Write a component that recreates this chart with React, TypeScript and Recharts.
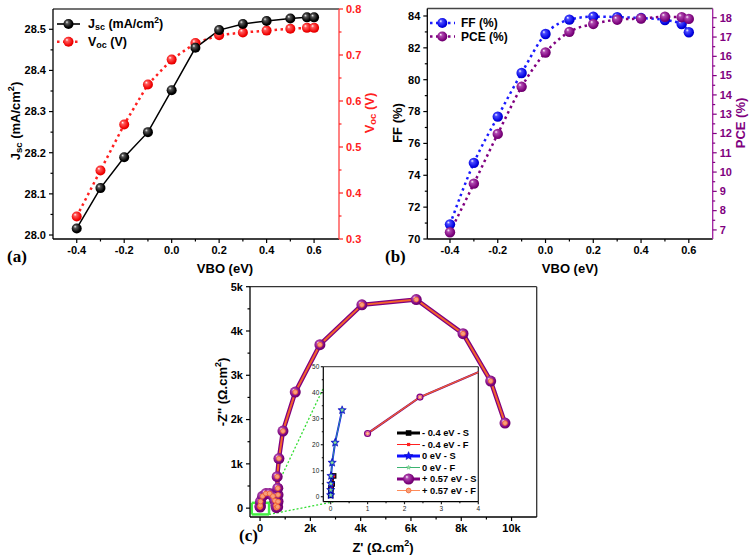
import React from 'react';
import { LineChart, Line, XAxis, YAxis, ReferenceLine, ReferenceArea, Legend, Label } from 'recharts';

// ---------- Panel (a) / (b) data ----------
const vbo = [-0.4, -0.3, -0.2, -0.1, 0, 0.1, 0.2, 0.3, 0.4, 0.5, 0.57, 0.6];
const jsc = [28.016, 28.114, 28.189, 28.25, 28.352, 28.455, 28.498, 28.513, 28.52, 28.526, 28.529, 28.529];
const voc = [0.349, 0.449, 0.549, 0.636, 0.69, 0.726, 0.743, 0.749, 0.753, 0.757, 0.759, 0.759];
const ff = [70.92, 74.78, 77.68, 80.42, 82.87, 83.77, 83.96, 83.93, 83.87, 83.75, 83.5, 82.98];
const pce = [6.88, 9.4, 11.98, 14.42, 16.2, 17.27, 17.68, 17.9, 17.96, 18.05, 18.03, 17.94];

const xTicks = [-0.4, -0.3, -0.2, -0.1, 0, 0.1, 0.2, 0.3, 0.4, 0.5, 0.6];
const xMajor = [-0.4, -0.2, 0, 0.2, 0.4, 0.6];
const jscTicks = [28.0, 28.05, 28.1, 28.15, 28.2, 28.25, 28.3, 28.35, 28.4, 28.45, 28.5];
const jscMajor = [28.0, 28.1, 28.2, 28.3, 28.4, 28.5];
const vocTicks = [0.3, 0.35, 0.4, 0.45, 0.5, 0.55, 0.6, 0.65, 0.7, 0.75, 0.8];
const vocMajor = [0.3, 0.4, 0.5, 0.6, 0.7, 0.8];
const ffTicks = [70, 71, 72, 73, 74, 75, 76, 77, 78, 79, 80, 81, 82, 83, 84];
const ffMajor = [70, 72, 74, 76, 78, 80, 82, 84];
const pceTicks = [7, 7.5, 8, 8.5, 9, 9.5, 10, 10.5, 11, 11.5, 12, 12.5, 13, 13.5, 14, 14.5, 15, 15.5, 16, 16.5, 17, 17.5, 18];
const pceMajor = [7, 8, 9, 10, 11, 12, 13, 14, 15, 16, 17, 18];

// ---------- Panel (c) data (Z', -Z'') ----------
const zm04Re = [0, 0.005, 0.01, 0.04, 0.08];
const zm04Im = [0.5, 2.6, 3.5, 4.9, 8.0];
const z0Re = [0, 0.002, 0.005, 0.01, 0.04, 0.12, 0.31];
const z0Im = [0.6, 2.6, 5, 8, 13.1, 20.8, 33.3];
const z057Re = [1.0, 2.42, 6, 20, 100, 230, 380, 510, 590, 630, 650, 700, 715, 715, 705, 680, 750, 910, 1400, 2380, 4050, 6210, 8070, 9170, 9740];
const z057Im = [24.3, 38.3, 60, 150, 270, 330, 330, 270, 170, 60, 10, 30, 150, 300, 450, 710, 1120, 1740, 2620, 3690, 4590, 4710, 3940, 2870, 1920];

const cYTicks = [0, 500, 1000, 1500, 2000, 2500, 3000, 3500, 4000, 4500, 5000];
const cYMajor = [0, 1000, 2000, 3000, 4000, 5000];
const cXTicks = [0, 1000, 2000, 3000, 4000, 5000, 6000, 7000, 8000, 9000, 10000];
const cXMajor = [0, 2000, 4000, 6000, 8000, 10000];
const inYTicks = [0, 5, 10, 15, 20, 25, 30, 35, 40, 45, 50];
const inYMajor = [0, 10, 20, 30, 40, 50];
const inXTicks = [0, 0.5, 1, 1.5, 2, 2.5, 3, 3.5, 4];
const inXMajor = [0, 1, 2, 3, 4];

// zoom box (main plot coords) and inset corners
const zoomBox = { x1: -330, x2: 358, y1: -142, y2: 120 };
const insetCorner = { x: 2915, yTop: 3190, yBottom: 142 };

const FONT = '"Liberation Sans", Arial, sans-serif';
const PURPLE = '#800080';
const RED = '#ff2020';
const ORANGE = '#f4622a';
const GREEN = '#44ee44';

const kfmt = (v: number) => (v === 0 ? '0' : `${v / 1000}k`);
const f1 = (v: number) => v.toFixed(1);
const f0 = (v: number) => `${Math.round(v)}`;

function makeTick(side: 'left' | 'right' | 'bottom', majors: number[], fmt: (v: number) => string, color: string, fs = 11, maj = 4, min = 2.5, gap = 3, weight: any = 'bold') {
  return (p: any) => {
    const { x, y, payload } = p;
    const v = payload.value;
    const isMaj = majors.some((m) => Math.abs(m - v) < 1e-6);
    const L = isMaj ? maj : min;
    const txt = { fill: color, fontSize: fs, fontWeight: weight, fontFamily: FONT } as any;
    if (side === 'left') {
      return (
        <g>
          <line x1={x} y1={y} x2={x - L} y2={y} stroke={color} strokeWidth={1.2} />
          {isMaj && <text x={x - maj - gap} y={y} dy="0.35em" textAnchor="end" {...txt}>{fmt(v)}</text>}
        </g>
      );
    }
    if (side === 'right') {
      return (
        <g>
          <line x1={x} y1={y} x2={x + L} y2={y} stroke={color} strokeWidth={1.2} />
          {isMaj && <text x={x + maj + gap} y={y} dy="0.35em" textAnchor="start" {...txt}>{fmt(v)}</text>}
        </g>
      );
    }
    return (
      <g>
        <line x1={x} y1={y} x2={x} y2={y + L} stroke={color} strokeWidth={1.2} />
        {isMaj && <text x={x} y={y + maj + gap} dy="0.75em" textAnchor="middle" {...txt}>{fmt(v)}</text>}
      </g>
    );
  };
}

const sphereDot = (grad: string, r: number) => (p: any) => {
  if (p.cx == null || p.cy == null) return <g key={`e-${grad}-${p.index}`} />;
  return <circle key={`${grad}-${p.index}`} cx={p.cx} cy={p.cy} r={r} fill={`url(#${grad})`} />;
};

function starPoints(cx: number, cy: number, R: number) {
  const pts: string[] = [];
  for (let i = 0; i < 10; i++) {
    const a = -Math.PI / 2 + (i * Math.PI) / 5;
    const rr = i % 2 ? R * 0.45 : R;
    pts.push(`${cx + rr * Math.cos(a)},${cy + rr * Math.sin(a)}`);
  }
  return pts.join(' ');
}

type MarkKind = 'square' | 'sqSmall' | 'star' | 'starSmall' | 'ball' | 'ballSmall' | 'bigBall' | 'dotF';
function Marker({ kind, cx, cy }: { kind: MarkKind; cx: number; cy: number }) {
  switch (kind) {
    case 'square':
      return <rect x={cx - 2.8} y={cy - 2.8} width={5.6} height={5.6} fill="#000" />;
    case 'sqSmall':
      return <rect x={cx - 1.6} y={cy - 1.6} width={3.2} height={3.2} fill={RED} />;
    case 'star':
      return <polygon points={starPoints(cx, cy, 4.4)} fill="#1010ff" stroke="#0000a0" strokeWidth={0.5} />;
    case 'starSmall':
      return <polygon points={starPoints(cx, cy, 2.2)} fill="#9be39b" stroke="#3cb371" strokeWidth={0.4} />;
    case 'ball':
      return <circle cx={cx} cy={cy} r={3} fill="#d27ad2" stroke={PURPLE} strokeWidth={1.2} />;
    case 'ballSmall':
      return <circle cx={cx} cy={cy} r={1.6} fill="#ffc0a0" stroke={ORANGE} strokeWidth={0.6} />;
    case 'bigBall':
      return <circle cx={cx} cy={cy} r={5.5} fill="url(#gPurple)" />;
    case 'dotF':
      return <circle cx={cx} cy={cy} r={2.4} fill="#f7a07a" stroke={ORANGE} strokeWidth={0.8} />;
  }
  return null;
}

const markDot = (kind: MarkKind, id: string) => (p: any) => {
  if (p.cx == null || p.cy == null) return <g key={`e-${id}-${p.index}`} />;
  return (
    <g key={`${id}-${p.index}`}>
      <Marker kind={kind} cx={p.cx} cy={p.cy} />
    </g>
  );
};

const titleStyle = { fontFamily: FONT, fontWeight: 'bold', fontSize: 13 } as any;

function VText({ x, y, color, children }: { x: number; y: number; color: string; children: any }) {
  return (
    <text x={x} y={y} transform={`rotate(-90, ${x}, ${y})`} textAnchor="middle" dominantBaseline="central" fill={color} {...titleStyle}>
      {children}
    </text>
  );
}
function HText({ x, y, color, children }: { x: number; y: number; color: string; children: any }) {
  return (
    <text x={x} y={y} textAnchor="middle" dominantBaseline="central" fill={color} {...titleStyle}>
      {children}
    </text>
  );
}

// legend definitions
const legendA = [
  { color: '#000', dash: undefined as any, grad: 'gBlack', parts: ['J', 'sc', ' (mA/cm', '2', ')'] },
  { color: RED, dash: '2.5 3.5', grad: 'gRed', parts: ['V', 'oc', ' (V)', '', ''] },
];
const legendB = [
  { color: '#1a1aff', dash: '2.5 3.5', grad: 'gBlue', label: 'FF (%)' },
  { color: PURPLE, dash: '2.5 3.5', grad: 'gPurple', label: 'PCE (%)' },
];
const legendC: { label: string; color: string; w: number; mark: MarkKind }[] = [
  { label: '- 0.4 eV - S', color: '#000', w: 3, mark: 'square' },
  { label: '- 0.4 eV - F', color: RED, w: 1, mark: 'sqSmall' },
  { label: '0 eV - S', color: '#1010ff', w: 3, mark: 'star' },
  { label: '0 eV - F', color: '#3cb371', w: 1, mark: 'starSmall' },
  { label: '+ 0.57 eV - S', color: PURPLE, w: 3, mark: 'bigBall' },
  { label: '+ 0.57 eV - F', color: '#ff8c5a', w: 1, mark: 'dotF' },
];

const LegendAContent = () => (
  <svg width={150} height={40} style={{ overflow: 'visible' }}>
    {legendA.map((it, i) => {
      const y = 10 + i * 17.7;
      return (
        <g key={i}>
          <line x1={2} x2={25} y1={y} y2={y} stroke={it.color} strokeWidth={i === 0 ? 1.6 : 2.5} strokeDasharray={it.dash} />
          <circle cx={13.5} cy={y} r={5} fill={`url(#${it.grad})`} />
          <text x={33} y={y} dominantBaseline="central" fontFamily={FONT} fontWeight="bold" fontSize={12.5} fill="#000">
            {it.parts[0]}
            <tspan dy={3} fontSize={9}>{it.parts[1]}</tspan>
            <tspan dy={-3}>{it.parts[2]}</tspan>
            {it.parts[3] && <tspan dy={-4.5} fontSize={8.5}>{it.parts[3]}</tspan>}
            {it.parts[4] && <tspan dy={4.5}>{it.parts[4]}</tspan>}
          </text>
        </g>
      );
    })}
  </svg>
);

const LegendBContent = () => (
  <svg width={110} height={32} style={{ overflow: 'visible' }}>
    {legendB.map((it, i) => {
      const y = 8 + i * 13.5;
      return (
        <g key={i}>
          <line x1={2} x2={27} y1={y} y2={y} stroke={it.color} strokeWidth={2.5} strokeDasharray={it.dash} />
          <circle cx={14.3} cy={y} r={5} fill={`url(#${it.grad})`} />
          <text x={33} y={y} dominantBaseline="central" fontFamily={FONT} fontWeight="bold" fontSize={12} fill="#000">
            {it.label}
          </text>
        </g>
      );
    })}
  </svg>
);

const LegendCContent = () => (
  <svg width={80} height={70} style={{ overflow: 'visible' }}>
    {legendC.map((it, i) => {
      const y = 6 + i * 11.5;
      return (
        <g key={i}>
          <line x1={2} x2={25} y1={y} y2={y} stroke={it.color} strokeWidth={it.w} />
          <Marker kind={it.mark} cx={13.6} cy={y} />
          <text x={27} y={y} dominantBaseline="central" fontFamily={FONT} fontWeight="bold" fontSize={9.3} fill="#000">
            {it.label}
          </text>
        </g>
      );
    })}
  </svg>
);

const panelLetter = (t: string, left: number, top: number) => (
  <div style={{ position: 'absolute', left, top, fontFamily: '"Liberation Serif", "Times New Roman", serif', fontWeight: 'bold', fontSize: 17, lineHeight: '20px' }}>{t}</div>
);

export default function App() {
  const dataAB = vbo.map((v, i) => ({ vbo: v, jsc: jsc[i], voc: voc[i], ff: ff[i], pce: pce[i] }));
  const dM04 = zm04Re.map((x, i) => ({ x, y: zm04Im[i] }));
  const d0 = z0Re.map((x, i) => ({ x, y: z0Im[i] }));
  const d057 = z057Re.map((x, i) => ({ x, y: z057Im[i] }));
  const b = zoomBox;

  return (
    <div style={{ position: 'absolute', left: 0, top: 0, width: 749, height: 558, background: '#fff', overflow: 'hidden' }}>
      <svg width={0} height={0} style={{ position: 'absolute' }}>
        <defs>
          <radialGradient id="gBlack" cx="0.45" cy="0.45" r="0.6" fx="0.33" fy="0.3">
            <stop offset="0%" stopColor="#f0f0f0" />
            <stop offset="25%" stopColor="#555" />
            <stop offset="75%" stopColor="#000" />
            <stop offset="100%" stopColor="#000" />
          </radialGradient>
          <radialGradient id="gRed" cx="0.45" cy="0.45" r="0.6" fx="0.33" fy="0.3">
            <stop offset="0%" stopColor="#fff" />
            <stop offset="25%" stopColor="#ff5a5a" />
            <stop offset="80%" stopColor="#f00000" />
            <stop offset="100%" stopColor="#d00000" />
          </radialGradient>
          <radialGradient id="gBlue" cx="0.45" cy="0.45" r="0.6" fx="0.33" fy="0.3">
            <stop offset="0%" stopColor="#fff" />
            <stop offset="25%" stopColor="#4a4aff" />
            <stop offset="80%" stopColor="#0000e0" />
            <stop offset="100%" stopColor="#0000b0" />
          </radialGradient>
          <radialGradient id="gPurple" cx="0.45" cy="0.45" r="0.6" fx="0.33" fy="0.3">
            <stop offset="0%" stopColor="#fff" />
            <stop offset="25%" stopColor="#b048b0" />
            <stop offset="80%" stopColor="#7a007a" />
            <stop offset="100%" stopColor="#600060" />
          </radialGradient>
        </defs>
      </svg>

      {/* Panel (a) */}
      <div style={{ position: 'absolute', left: 0, top: 0 }}>
        <LineChart width={380} height={290} data={dataAB} margin={{ top: 9, right: 0, bottom: 0, left: 0 }}>
          <XAxis dataKey="vbo" type="number" domain={[-0.5, 0.705]} allowDataOverflow ticks={xTicks} interval={0} tickSize={0} tickMargin={0}
            tick={makeTick('bottom', xMajor, f1, '#000')} axisLine={{ stroke: '#000', strokeWidth: 1.3 }} height={51}>
            <Label content={() => <HText x={225} y={268} color="#000">VBO (eV)</HText>} />
          </XAxis>
          <YAxis yAxisId="l" orientation="left" type="number" width={53} domain={[27.9903, 28.5493]} allowDataOverflow ticks={jscTicks} interval={0}
            tickSize={0} tickMargin={0} tick={makeTick('left', jscMajor, f1, '#000')} axisLine={{ stroke: '#000', strokeWidth: 1.3 }}>
            <Label content={() => (
              <VText x={15} y={121} color="#000">
                J<tspan dy={3} fontSize={9.5}>sc</tspan><tspan dy={-3}> (mA/cm</tspan><tspan dy={-4.5} fontSize={9}>2</tspan><tspan dy={4.5}>)</tspan>
              </VText>
            )} />
          </YAxis>
          <YAxis yAxisId="r" orientation="right" type="number" width={41} domain={[0.3, 0.8]} allowDataOverflow ticks={vocTicks} interval={0}
            tickSize={0} tickMargin={0} tick={makeTick('right', vocMajor, f1, RED)} axisLine={{ stroke: '#ff4040', strokeWidth: 1.3 }}>
            <Label content={() => (
              <VText x={369} y={113} color={RED}>
                V<tspan dy={3} fontSize={9.5}>oc</tspan><tspan dy={-3}> (V)</tspan>
              </VText>
            )} />
          </YAxis>
          <ReferenceLine yAxisId="l" y={28.5493} stroke="#444" strokeWidth={1.5} />
          <Line yAxisId="r" dataKey="voc" stroke={RED} strokeWidth={2.5} strokeDasharray="2.5 3.5" dot={sphereDot('gRed', 5)} isAnimationActive={false} />
          <Line yAxisId="l" dataKey="jsc" stroke="#000" strokeWidth={1.5} dot={sphereDot('gBlack', 5)} isAnimationActive={false} />
          <Legend layout="vertical" align="center" verticalAlign="middle" content={LegendAContent} wrapperStyle={{ left: 55, top: 14, width: 150 }} />
        </LineChart>
      </div>
      {panelLetter('(a)', 7, 247)}

      {/* Panel (b) */}
      <div style={{ position: 'absolute', left: 370, top: 0 }}>
        <LineChart width={379} height={290} data={dataAB} margin={{ top: 8.5, right: 0, bottom: 0, left: 0 }}>
          <XAxis dataKey="vbo" type="number" domain={[-0.495, 0.7]} allowDataOverflow ticks={xTicks} interval={0} tickSize={0} tickMargin={0}
            tick={makeTick('bottom', xMajor, f1, '#000')} axisLine={{ stroke: '#000', strokeWidth: 1.3 }} height={51}>
            <Label content={() => <HText x={200} y={268} color="#000">VBO (eV)</HText>} />
          </XAxis>
          <YAxis yAxisId="l" orientation="left" type="number" width={57.3} domain={[70, 84.47]} allowDataOverflow ticks={ffTicks} interval={0}
            tickSize={0} tickMargin={0} tick={makeTick('left', ffMajor, f0, '#000')} axisLine={{ stroke: '#000', strokeWidth: 1.3 }}>
            <Label content={() => <VText x={27} y={123} color="#000">FF (%)</VText>} />
          </YAxis>
          <YAxis yAxisId="r" orientation="right" type="number" width={36.3} domain={[6.53, 18.48]} allowDataOverflow ticks={pceTicks} interval={0}
            tickSize={0} tickMargin={0} tick={makeTick('right', pceMajor, f0, PURPLE)} axisLine={{ stroke: '#a020a0', strokeWidth: 1.3 }}>
            <Label content={() => <VText x={370} y={123} color={PURPLE}>PCE (%)</VText>} />
          </YAxis>
          <ReferenceLine yAxisId="l" y={84.47} stroke="#444" strokeWidth={1.5} />
          <Line yAxisId="l" dataKey="ff" type="monotone" stroke="#1a1aff" strokeWidth={2.5} strokeDasharray="2.5 3.5" dot={sphereDot('gBlue', 5.2)} isAnimationActive={false} />
          <Line yAxisId="r" dataKey="pce" type="monotone" stroke={PURPLE} strokeWidth={2.5} strokeDasharray="2.5 3.5" dot={sphereDot('gPurple', 5.2)} isAnimationActive={false} />
          <Legend layout="vertical" align="center" verticalAlign="middle" content={LegendBContent} wrapperStyle={{ left: 58, top: 14.7, width: 110 }} />
        </LineChart>
      </div>
      {panelLetter('(b)', 385, 247)}

      {/* Panel (c) main */}
      <div style={{ position: 'absolute', left: 200, top: 270 }}>
        <LineChart width={340} height={288} margin={{ top: 16.7, right: 3.3, bottom: 0, left: 0 }}>
          <XAxis dataKey="x" type="number" domain={[-400, 11000]} allowDataOverflow ticks={cXTicks} interval={0} tickSize={0} tickMargin={0}
            tick={makeTick('bottom', cXMajor, kfmt, '#000', 11)} axisLine={{ stroke: '#000', strokeWidth: 1.3 }} height={41}>
            <Label content={() => (
              <HText x={183} y={277} color="#000">
                Z' (Ω.cm<tspan dy={-4.5} fontSize={9}>2</tspan><tspan dy={4.5}>)</tspan>
              </HText>
            )} />
          </XAxis>
          <YAxis dataKey="y" type="number" width={50} domain={[-200, 5000]} allowDataOverflow ticks={cYTicks} interval={0} tickSize={0} tickMargin={0}
            tick={makeTick('left', cYMajor, kfmt, '#000', 11)} axisLine={{ stroke: '#000', strokeWidth: 1.3 }}>
            <Label content={() => (
              <VText x={22} y={122} color="#000">
                -Z'' (Ω.cm<tspan dy={-4.5} fontSize={9}>2</tspan><tspan dy={4.5}>)</tspan>
              </VText>
            )} />
          </YAxis>
          <ReferenceLine y={5000} stroke="#333" strokeWidth={1.3} />
          <ReferenceLine x={11000} stroke="#333" strokeWidth={1.3} />
          <ReferenceLine segment={[{ x: b.x2, y: b.y2 }, { x: insetCorner.x, y: insetCorner.yTop }]} stroke="#33dd33" strokeWidth={1.3} strokeDasharray="2 2" />
          <ReferenceLine segment={[{ x: b.x2, y: b.y1 }, { x: insetCorner.x, y: insetCorner.yBottom }]} stroke="#33dd33" strokeWidth={1.3} strokeDasharray="2 2" />
          <Line data={dM04} dataKey="y" stroke="#000" strokeWidth={2.5} dot={markDot('square', 'm04s')} isAnimationActive={false} />
          <Line data={dM04} dataKey="y" stroke={RED} strokeWidth={1} dot={markDot('sqSmall', 'm04f')} isAnimationActive={false} />
          <Line data={d0} dataKey="y" stroke="#1010ff" strokeWidth={2.5} dot={markDot('star', 'z0s')} isAnimationActive={false} />
          <Line data={d0} dataKey="y" stroke="#3cb371" strokeWidth={1} dot={markDot('starSmall', 'z0f')} isAnimationActive={false} />
          <Line data={d057} dataKey="y" stroke={PURPLE} strokeWidth={4.5} dot={markDot('bigBall', 'z57s')} isAnimationActive={false} />
          <Line data={d057} dataKey="y" stroke={ORANGE} strokeWidth={2} dot={markDot('dotF', 'z57f')} isAnimationActive={false} />
          <ReferenceLine segment={[{ x: b.x1, y: b.y1 }, { x: b.x2, y: b.y1 }]} stroke={GREEN} strokeWidth={2.5} />
          <ReferenceLine segment={[{ x: b.x1, y: b.y2 }, { x: b.x2, y: b.y2 }]} stroke={GREEN} strokeWidth={2.5} />
          <ReferenceLine segment={[{ x: b.x1, y: b.y1 }, { x: b.x1, y: b.y2 }]} stroke={GREEN} strokeWidth={2.5} />
          <ReferenceLine segment={[{ x: b.x2, y: b.y1 }, { x: b.x2, y: b.y2 }]} stroke={GREEN} strokeWidth={2.5} />
        </LineChart>
      </div>

      {/* Panel (c) inset */}
      <div style={{ position: 'absolute', left: 300, top: 360 }}>
        <LineChart width={182} height={155} margin={{ top: 6.7, right: 3.7, bottom: 0, left: 0 }}>
          <XAxis dataKey="x" type="number" domain={[-0.2, 4]} allowDataOverflow ticks={inXTicks} interval={0} tickSize={0} tickMargin={0}
            tick={makeTick('bottom', inXMajor, f0, '#222', 6.5, 2.5, 1.5, 1.5, 'normal')} axisLine={{ stroke: '#000', strokeWidth: 1.2 }} height={13.3} />
          <YAxis dataKey="y" type="number" width={23.3} domain={[-1.92, 50]} allowDataOverflow ticks={inYTicks} interval={0} tickSize={0} tickMargin={0}
            tick={makeTick('left', inYMajor, f0, '#222', 6.5, 2.5, 1.5, 1.5, 'normal')} axisLine={{ stroke: '#000', strokeWidth: 1.2 }} />
          <ReferenceArea x1={-0.2} x2={4} y1={-1.92} y2={50} fill="#fff" fillOpacity={1} stroke="none" />
          <ReferenceLine y={50} stroke="#555" strokeWidth={1.2} />
          <ReferenceLine x={4} stroke="#222" strokeWidth={1.2} />
          <Line data={dM04} dataKey="y" stroke="#000" strokeWidth={2} dot={markDot('square', 'im04s')} isAnimationActive={false} />
          <Line data={dM04} dataKey="y" stroke={RED} strokeWidth={0.8} dot={markDot('sqSmall', 'im04f')} isAnimationActive={false} />
          <Line data={d0} dataKey="y" stroke="#1010ff" strokeWidth={2} dot={markDot('star', 'iz0s')} isAnimationActive={false} />
          <Line data={d0} dataKey="y" stroke="#3cb371" strokeWidth={0.8} dot={markDot('starSmall', 'iz0f')} isAnimationActive={false} />
          <Line data={d057} dataKey="y" stroke={PURPLE} strokeWidth={2.2} dot={markDot('ball', 'iz57s')} isAnimationActive={false} />
          <Line data={d057} dataKey="y" stroke={ORANGE} strokeWidth={1.2} dot={markDot('ballSmall', 'iz57f')} isAnimationActive={false} />
          <Legend layout="vertical" align="center" verticalAlign="middle" content={LegendCContent} wrapperStyle={{ left: 94.7, top: 67.3, width: 80 }} />
        </LineChart>
      </div>
      {panelLetter('(c)', 239, 526)}
    </div>
  );
}
